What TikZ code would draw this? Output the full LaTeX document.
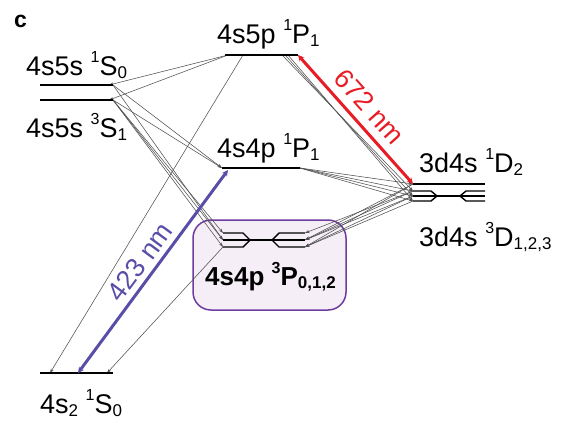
\documentclass[tikz,border=0pt]{standalone}
\usepackage{fontspec}
\setmainfont{Liberation Sans}
\usetikzlibrary{arrows.meta}
\definecolor{lvblue}{RGB}{88,78,168}
\definecolor{lvred}{RGB}{232,28,36}
\definecolor{boxfill}{RGB}{245,238,247}
\definecolor{boxline}{RGB}{110,60,160}
\definecolor{decay}{RGB}{80,80,80}
\newcommand\myup[1]{\raisebox{0.46em}{\fontsize{16}{16}\selectfont #1}}
\newcommand\mydn[1]{\raisebox{-0.14em}{\fontsize{17}{17}\selectfont #1}}
\begin{document}
\begin{tikzpicture}[x=1pt,y=-1pt,
  level/.style={line width=1.4pt, black},
  decayline/.style={decay, line width=0.55pt, -{Stealth[length=4.5pt,width=3pt]}},
  lbl/.style={anchor=base west, inner sep=0pt, font=\fontsize{27}{32}\selectfont},
  laser/.style={line width=3pt, {Stealth[length=6pt,width=6pt]}-{Stealth[length=6pt,width=6pt]}}]
\useasboundingbox (0,0) rectangle (561,421);
% coordinates
\coordinate (s1L) at (40,85);   \coordinate (s1R) at (113,85);
\coordinate (s3L) at (40,100);  \coordinate (s3R) at (113,100);
\coordinate (p5L) at (225,55);  \coordinate (p5R) at (298,55);
\coordinate (p4L) at (222,168); \coordinate (p4R) at (300,168);
\coordinate (d1L) at (413,184); \coordinate (d1R) at (485,184);
\coordinate (gL) at (40,373);   \coordinate (gR) at (113,373);
\coordinate (p5a) at (228,55);  \coordinate (p5b) at (243,55);
\coordinate (p5c) at (282,55);  \coordinate (p5d) at (285,55); \coordinate (p5e) at (288,55);
\coordinate (s1e) at (109,85);  \coordinate (s3e) at (109,100);
\coordinate (gA) at (50,373);   \coordinate (gB) at (78,373);  \coordinate (gC) at (107,373);
\coordinate (p4a) at (228,170);
\coordinate (da) at (413,191);  \coordinate (db) at (413,196); \coordinate (dc) at (413,201);
\coordinate (pa) at (223,233);  \coordinate (pb) at (223,240); \coordinate (pc) at (223,247);
\coordinate (qa) at (305,233);  \coordinate (qb) at (305,240); \coordinate (qc) at (305,247);
% box
\node[draw=boxline, fill=boxfill, rounded corners=18pt, line width=1.5pt,
      minimum width=153pt, minimum height=90pt, inner sep=0pt] (box) at (269.5,265) {};
% decay lines
\draw[decayline] (p5a) -- (s1e);
\draw[decayline] (p5a) -- (s3e);
\draw[decayline] (p5b) -- (gA);
\draw[decayline] (p5c) -- (da);
\draw[decayline] (p5d) -- (db);
\draw[decayline] (p5e) -- (dc);
\draw[decayline] (s1R) -- (p4L);
\draw[decayline] (s3R) -- (p4L);
\draw[decayline] (s1R) -- (pb);
\draw[decayline] (s3R) -- (pa);
\draw[decayline] (s3R) -- (pb);
\draw[decayline] (s3R) -- (pc);
\draw[decayline] (p4R) -- (d1L);
\draw[decayline] (p4R) -- (da);
\draw[decayline] (p4R) -- (db);
\draw[decayline] (p4R) -- (dc);
\draw[decayline] (d1L) -- (qb);
\draw[decayline] (d1L) -- (qc);
\draw[decayline] (da) -- (qa);
\draw[decayline] (da) -- (qb);
\draw[decayline] (db) -- (qb);
\draw[decayline] (db) -- (qc);
\draw[decayline] (dc) -- (qc);
\draw[decayline] (pc) -- (gC);
% levels
\draw[level] (s1L) -- (s1R);
\draw[level] (s3L) -- (s3R);
\draw[level] (p5L) -- (p5R);
\draw[level] (p4L) -- (p4R);
\draw[level] (d1L) -- (d1R);
\draw[level] (gL) -- (gR);
% 3P fork
\draw[level, line join=miter] (pa) -- (243,233) -- (250,240) -- (272,240) -- (279,233) -- (qa);
\draw[level, line join=miter] (pc) -- (243,247) -- (250,240);
\draw[level, line join=miter] (272,240) -- (279,247) -- (qc);
\draw[level] (pb) -- (qb);
% 3D fork
\draw[level, line join=miter] (da) -- (431,191) -- (437,196) -- (460,196) -- (466,191) -- (485,191);
\draw[level, line join=miter] (dc) -- (431,201) -- (437,196);
\draw[level, line join=miter] (460,196) -- (466,201) -- (485,201);
\draw[level] (db) -- (485,196);
% lasers
\draw[laser, lvblue] (gB) -- (p4a)
  node[midway, sloped, above=5pt, inner sep=0pt, font=\fontsize{27}{32}\selectfont] (l423) {423 nm};
\draw[laser, lvred] (p5R) -- (d1L)
  node[midway, sloped, above=8pt, inner sep=0pt, font=\fontsize{27}{32}\selectfont] (l672) {672 nm};
% labels
\node[anchor=base west, inner sep=0pt, font=\fontsize{23}{27}\selectfont\bfseries] (c) at (14,27) {c};
\node[lbl] (t1) at (26,75) {4s5s \myup{1}S\mydn{0}};
\node[lbl] (t2) at (26,137) {4s5s \myup{3}S\mydn{1}};
\node[lbl] (t3) at (217,43) {4s5p \myup{1}P\mydn{1}};
\node[lbl] (t4) at (217,157) {4s4p \myup{1}P\mydn{1}};
\node[lbl] (t5) at (419,172) {3d4s \myup{1}D\mydn{2}};
\node[lbl] (t6) at (419,246) {3d4s \myup{3}D\mydn{1,2,3}};
\node[lbl] (t7) at (40,413) {4s\mydn{2} \myup{1}S\mydn{0}};
\node[lbl, font=\fontsize{26}{30}\selectfont\bfseries] (t8) at (205,285) {4s4p \myup{3}P\mydn{0,1,2}};
\end{tikzpicture}
\end{document}
